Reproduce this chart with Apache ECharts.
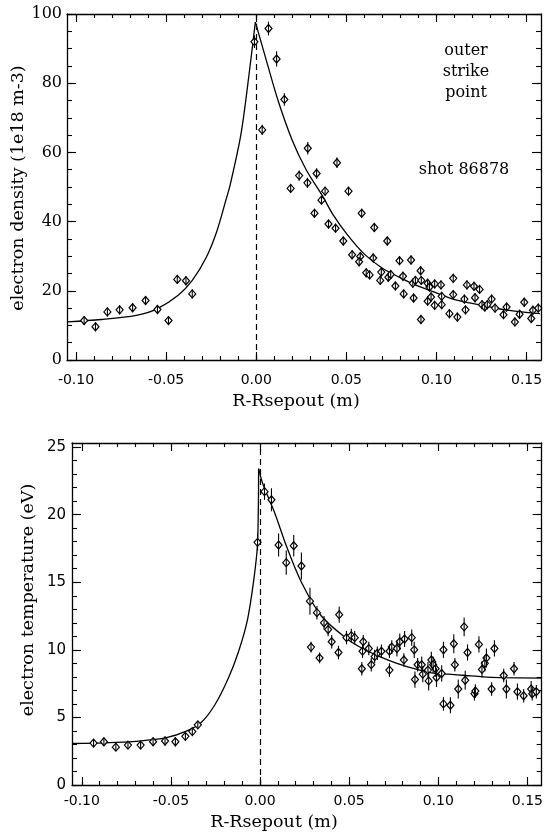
<!DOCTYPE html>
<html><head><meta charset="utf-8">
<script src="https://cdn.jsdelivr.net/npm/echarts@6/dist/echarts.min.js"></script>
<style>html,body{margin:0;padding:0;background:#fff}#c{width:546px;height:834px}</style>
</head><body><div id="c"></div>
<script>
// ---------- tick values ----------
const xMajorTicks = [-0.10, -0.05, 0.00, 0.05, 0.10, 0.15];
const xMinorTicks = [-0.10,-0.09,-0.08,-0.07,-0.06,-0.05,-0.04,-0.03,-0.02,-0.01,0.00,0.01,0.02,0.03,0.04,0.05,0.06,0.07,0.08,0.09,0.10,0.11,0.12,0.13,0.14,0.15];
const densMajorTicks = [0, 20, 40, 60, 80, 100];
const densMinorTicks = [0,5,10,15,20,25,30,35,40,45,50,55,60,65,70,75,80,85,90,95,100];
const tempMajorTicks = [0, 5, 10, 15, 20, 25];
const tempMinorTicks = [0,1,2,3,4,5,6,7,8,9,10,11,12,13,14,15,16,17,18,19,20,21,22,23,24,25];

// ---------- electron density data ----------
const densX = [-0.0955,-0.0892,-0.0826,-0.0758,-0.0686,-0.0614,-0.0548,-0.0487,-0.0438,-0.0390,-0.0355,
  -0.0010,0.0068,0.0113,0.0156,0.0033,0.0286,0.0448,0.0238,0.0335,
  0.0191,0.0284,0.0323,0.0362,0.0382,0.0401,0.0440,0.0483,0.0512,0.0532,0.0577,0.0571,0.0585,0.0610,0.0629,0.0649,0.0655,
  0.0688,0.0694,0.0727,0.0733,0.0746,0.0772,0.0795,0.0814,0.0818,0.0859,0.0869,0.0873,0.0883,0.0912,0.0916,0.0914,
  0.0951,0.0961,0.0951,0.0970,0.0990,0.0990,0.1025,0.1029,0.1029,0.1072,0.1093,0.1093,0.1116,0.1161,0.1155,0.1169,
  0.1208,0.1214,0.1239,0.1253,0.1268,0.1282,0.1306,0.1325,0.1372,0.1389,0.1435,0.1461,0.1487,0.1526,0.1535,0.1565];
const densY = [11.4,9.6,13.9,14.5,15.1,17.2,14.6,11.4,23.3,22.9,19.1,
  92.0,95.8,87.0,75.3,66.5,61.2,57.0,53.3,53.9,
  49.6,51.2,42.4,46.2,48.8,39.3,38.1,34.4,48.8,30.4,29.9,28.4,42.4,25.2,24.6,29.5,38.3,
  23.0,25.4,34.4,23.9,24.7,21.4,28.7,24.2,19.1,28.9,22.2,17.9,23.0,25.8,23.0,11.7,
  22.2,21.1,17.0,18.2,15.8,22.0,21.7,18.4,16.0,13.4,23.6,18.9,12.4,14.5,17.6,21.7,
  21.3,18.0,20.4,16.0,15.3,16.0,17.6,15.0,13.1,15.3,11.0,13.2,16.7,12.0,14.4,15.0];
const densErr = [1.3,1.3,1.3,1.3,1.3,1.3,1.3,1.3,1.3,1.3,1.3,
  1.8,2.0,2.2,1.8,1.5,1.8,1.5,1.5,1.5,
  1.3,1.5,1.3,1.3,1.3,1.3,1.3,1.3,1.3,1.3,1.3,1.3,1.3,1.3,1.3,1.3,1.3,
  1.3,1.3,1.3,1.3,1.3,1.3,1.3,1.3,1.3,1.3,1.3,1.3,1.3,1.3,1.3,1.3,
  1.3,1.3,1.3,1.3,1.3,1.3,1.3,1.3,1.3,1.3,1.3,1.3,1.3,1.3,1.3,1.3,
  1.3,1.3,1.3,1.3,1.3,1.3,1.3,1.3,1.3,1.3,1.3,1.3,1.3,1.3,1.3,1.3];
// fit curve, inner (left of peak) and outer (right of peak) branches
const densFitLeftX = [-0.105,-0.086,-0.0666,-0.055,-0.0433,-0.0355,-0.0277,-0.0218,-0.017,-0.0143,-0.0084,-0.0035,-0.0005];
const densFitLeftY = [11.0,11.7,12.9,14.8,18.7,23.0,29.7,37.3,45.9,51.0,65.5,84.6,97.7];
const densFitRightX = [-0.0005,0.0062,0.0121,0.0199,0.0277,0.0370,0.0425,0.0503,0.0600,0.0698,0.0795,0.0892,0.0990,0.1087,0.1185,0.1282,0.1380,0.1574];
const densFitRightY = [97.7,85.5,75.0,63.6,55.0,47.2,42.1,36.4,30.6,26.6,23.9,21.5,19.6,17.7,16.5,15.5,14.5,13.4];

// ---------- electron temperature data ----------
const tempX = [-0.0934,-0.0876,-0.0809,-0.0741,-0.0670,-0.0600,-0.0533,-0.0475,-0.0419,-0.0380,-0.0349,
  -0.0014,0.0025,0.0064,0.0104,0.0147,0.0189,0.0232,0.0280,0.0319,0.0359,0.0444,
  0.0382,0.0402,0.0286,0.0334,0.0440,0.0485,0.0512,0.0531,0.0571,0.0575,0.0579,0.0610,0.0624,0.0643,0.0658,0.0681,
  0.0726,0.0726,0.0739,0.0768,0.0784,0.0807,0.0811,0.0851,0.0865,0.0869,0.0884,0.0907,0.0913,0.0942,0.0946,0.0961,
  0.0971,0.0985,0.0990,0.1019,0.1029,0.1029,0.1068,0.1087,0.1093,0.1112,0.1145,0.1151,0.1164,0.1203,0.1208,0.1228,
  0.1245,0.1261,0.1270,0.1299,0.1315,0.1367,0.1382,0.1425,0.1444,0.1479,0.1521,0.1527,0.1550];
const tempY = [3.10,3.20,2.80,2.95,2.95,3.20,3.25,3.20,3.60,3.95,4.45,
  17.95,21.7,21.1,17.75,16.45,17.7,16.2,13.6,12.75,12.0,12.6,
  11.5,10.6,10.2,9.4,9.8,10.9,11.05,10.9,8.6,9.9,10.6,10.1,8.9,9.5,9.75,9.9,
  8.5,9.9,10.2,10.1,10.6,9.25,10.8,10.9,10.0,7.8,8.9,8.9,8.2,8.5,7.7,9.25,
  8.9,8.6,7.95,8.25,10.0,6.0,5.9,10.45,8.9,7.1,11.7,7.75,9.8,6.75,6.95,10.4,
  8.55,9.0,9.4,7.1,10.1,8.1,7.1,8.6,6.9,6.6,7.1,6.75,6.9];
const tempErr = [0.30,0.30,0.25,0.25,0.25,0.30,0.35,0.35,0.30,0.25,0.25,
  0.6,0.6,0.85,0.85,0.9,0.8,1.0,1.0,0.5,0.5,0.6,
  0.5,0.5,0.4,0.4,0.5,0.5,0.5,0.5,0.5,0.5,0.5,0.5,0.5,0.5,0.5,0.5,
  0.5,0.5,0.5,0.6,0.6,0.5,0.6,0.6,0.6,0.6,0.5,0.6,0.6,0.6,0.7,0.6,
  0.6,0.6,0.7,0.6,0.6,0.5,0.6,0.7,0.5,0.7,0.7,0.7,0.6,0.5,0.5,0.6,
  0.6,0.6,0.7,0.5,0.6,0.5,0.7,0.5,0.6,0.5,0.6,0.5,0.5];
const tempFitLeftX = [-0.1055,-0.0873,-0.068,-0.0525,-0.041,-0.0332,-0.0255,-0.0178,-0.012,-0.0071,-0.0033,-0.0014,-0.0008];
const tempFitLeftY = [3.07,3.12,3.25,3.5,4.0,4.6,5.9,7.9,9.9,12.2,15.4,17.9,23.4];
const tempFitRightX = [-0.0008,0.0015,0.0083,0.015,0.0232,0.0344,0.0479,0.0575,0.0672,0.0768,0.0865,0.0961,0.1058,0.1154,0.1251,0.1347,0.158];
const tempFitRightY = [23.4,22.3,20.1,17.6,15.0,12.5,10.9,10.1,9.5,9.0,8.6,8.3,8.2,8.1,8.0,7.95,7.9];

// ---------- chart ----------
const chart = echarts.init(document.getElementById('c'), null, {renderer: 'canvas'});
const BLACK = '#000';
const SERIF = '"DejaVu Serif", serif';
const SANS = '"DejaVu Sans", sans-serif';

function axisX(grid, min, max, pos, ticks, len, showLine, label) {
  return {
    type: 'value', gridIndex: grid, min: min, max: max, position: pos,
    axisLine: {show: showLine, onZero: false, lineStyle: {color: BLACK, width: 1.3}},
    axisTick: {show: true, inside: true, length: len, customValues: ticks, lineStyle: {color: BLACK, width: 1.1}},
    axisLabel: label ? Object.assign({show: true, customValues: ticks, color: BLACK, formatter: v => v.toFixed(2)}, label) : {show: false},
    splitLine: {show: false}
  };
}
function axisY(grid, min, max, pos, ticks, len, showLine, label) {
  return {
    type: 'value', gridIndex: grid, min: min, max: max, position: pos,
    axisLine: {show: showLine, onZero: false, lineStyle: {color: BLACK, width: 1.3}},
    axisTick: {show: true, inside: true, length: len, customValues: ticks, lineStyle: {color: BLACK, width: 1.1}},
    axisLabel: label ? Object.assign({show: true, customValues: ticks, color: BLACK}, label) : {show: false},
    splitLine: {show: false}
  };
}

const X0 = [-0.105, 0.158], X1 = [-0.1055, 0.158];
const xAxes = [
  axisX(0, X0[0], X0[1], 'bottom', xMajorTicks, 8, true, {fontFamily: SANS, fontSize: 14, margin: 13}),
  axisX(0, X0[0], X0[1], 'bottom', xMinorTicks, 4, false, null),
  axisX(0, X0[0], X0[1], 'top', xMajorTicks, 8, true, null),
  axisX(0, X0[0], X0[1], 'top', xMinorTicks, 4, false, null),
  axisX(1, X1[0], X1[1], 'bottom', xMajorTicks, 8, true, {fontFamily: SANS, fontSize: 14, margin: 9}),
  axisX(1, X1[0], X1[1], 'bottom', xMinorTicks, 4, false, null),
  axisX(1, X1[0], X1[1], 'top', xMajorTicks, 8, true, null),
  axisX(1, X1[0], X1[1], 'top', xMinorTicks, 4, false, null)
];
const yAxes = [
  axisY(0, 0, 100, 'left', densMajorTicks, 9, true, {fontFamily: SERIF, fontSize: 16, margin: 5}),
  axisY(0, 0, 100, 'left', densMinorTicks, 5, false, null),
  axisY(0, 0, 100, 'right', densMajorTicks, 9, true, null),
  axisY(0, 0, 100, 'right', densMinorTicks, 5, false, null),
  axisY(1, 0, 25.3, 'left', tempMajorTicks, 9, true, {fontFamily: SANS, fontSize: 15, margin: 6}),
  axisY(1, 0, 25.3, 'left', tempMinorTicks, 5, false, null),
  axisY(1, 0, 25.3, 'right', tempMajorTicks, 9, true, null),
  axisY(1, 0, 25.3, 'right', tempMinorTicks, 5, false, null)
];

function errorSeries(ax, xs, ys, es) {
  return {
    type: 'custom', xAxisIndex: ax, yAxisIndex: ax, z: 4, silent: true,
    renderItem: function (params, api) {
      const a = api.coord([api.value(0), api.value(1)]);
      const b = api.coord([api.value(0), api.value(2)]);
      return {type: 'line', shape: {x1: a[0], y1: a[1], x2: b[0], y2: b[1]}, style: {stroke: BLACK, lineWidth: 1.1}};
    },
    encode: {x: 0, y: [1, 2]},
    data: xs.map((x, i) => [x, ys[i] - es[i], ys[i] + es[i]])
  };
}
function pointSeries(ax, xs, ys) {
  return {
    type: 'scatter', xAxisIndex: ax, yAxisIndex: ax, z: 3, silent: true,
    symbol: 'diamond', symbolSize: [7, 8],
    itemStyle: {color: '#fff', borderColor: BLACK, borderWidth: 1.2, opacity: 1},
    data: xs.map((x, i) => [x, ys[i]])
  };
}
function fitSeries(ax, xs, ys, withSep) {
  const s = {
    type: 'line', xAxisIndex: ax, yAxisIndex: ax, z: 2, silent: true,
    showSymbol: false, symbol: 'none', smooth: 0.3,
    lineStyle: {color: BLACK, width: 1.3},
    data: xs.map((x, i) => [x, ys[i]])
  };
  if (withSep) {
    s.markLine = {
      silent: true, symbol: ['none', 'none'], label: {show: false},
      lineStyle: {color: BLACK, width: 1.2, type: [6, 4]},
      data: [{xAxis: 0}]
    };
  }
  return s;
}

const TITLE_FONT = '17.5px ' + SERIF;
const option = {
  backgroundColor: '#fff',
  animation: false,
  grid: [
    {left: 67, top: 14, width: 474, height: 346},
    {left: 72, top: 443, width: 472, height: 342}
  ],
  xAxis: xAxes,
  yAxis: yAxes,
  series: [
    fitSeries(0, densFitLeftX, densFitLeftY, true),
    fitSeries(0, densFitRightX, densFitRightY, false),
    pointSeries(0, densX, densY),
    errorSeries(0, densX, densY, densErr),
    fitSeries(4, tempFitLeftX, tempFitLeftY, true),
    fitSeries(4, tempFitRightX, tempFitRightY, false),
    pointSeries(4, tempX, tempY),
    errorSeries(4, tempX, tempY, tempErr)
  ],
  graphic: [
    {type: 'text', x: 296, y: 401, style: {text: 'R-Rsepout (m)', font: TITLE_FONT, fill: BLACK, align: 'center', verticalAlign: 'middle'}},
    {type: 'text', x: 274, y: 822, style: {text: 'R-Rsepout (m)', font: TITLE_FONT, fill: BLACK, align: 'center', verticalAlign: 'middle'}},
    {type: 'text', x: 18, y: 188, rotation: Math.PI / 2, style: {text: 'electron density (1e18 m-3)', font: TITLE_FONT, fill: BLACK, align: 'center', verticalAlign: 'middle'}},
    {type: 'text', x: 28, y: 600, rotation: Math.PI / 2, style: {text: 'electron temperature (eV)', font: TITLE_FONT, fill: BLACK, align: 'center', verticalAlign: 'middle'}},
    {type: 'text', x: 466, y: 40, style: {text: 'outer\nstrike\npoint', font: '16px ' + SERIF, fill: BLACK, align: 'center', verticalAlign: 'top', lineHeight: 21}},
    {type: 'text', x: 464, y: 170, style: {text: 'shot 86878', font: '16px ' + SERIF, fill: BLACK, align: 'center', verticalAlign: 'middle'}}
  ]
};
chart.setOption(option);
</script></body></html>
